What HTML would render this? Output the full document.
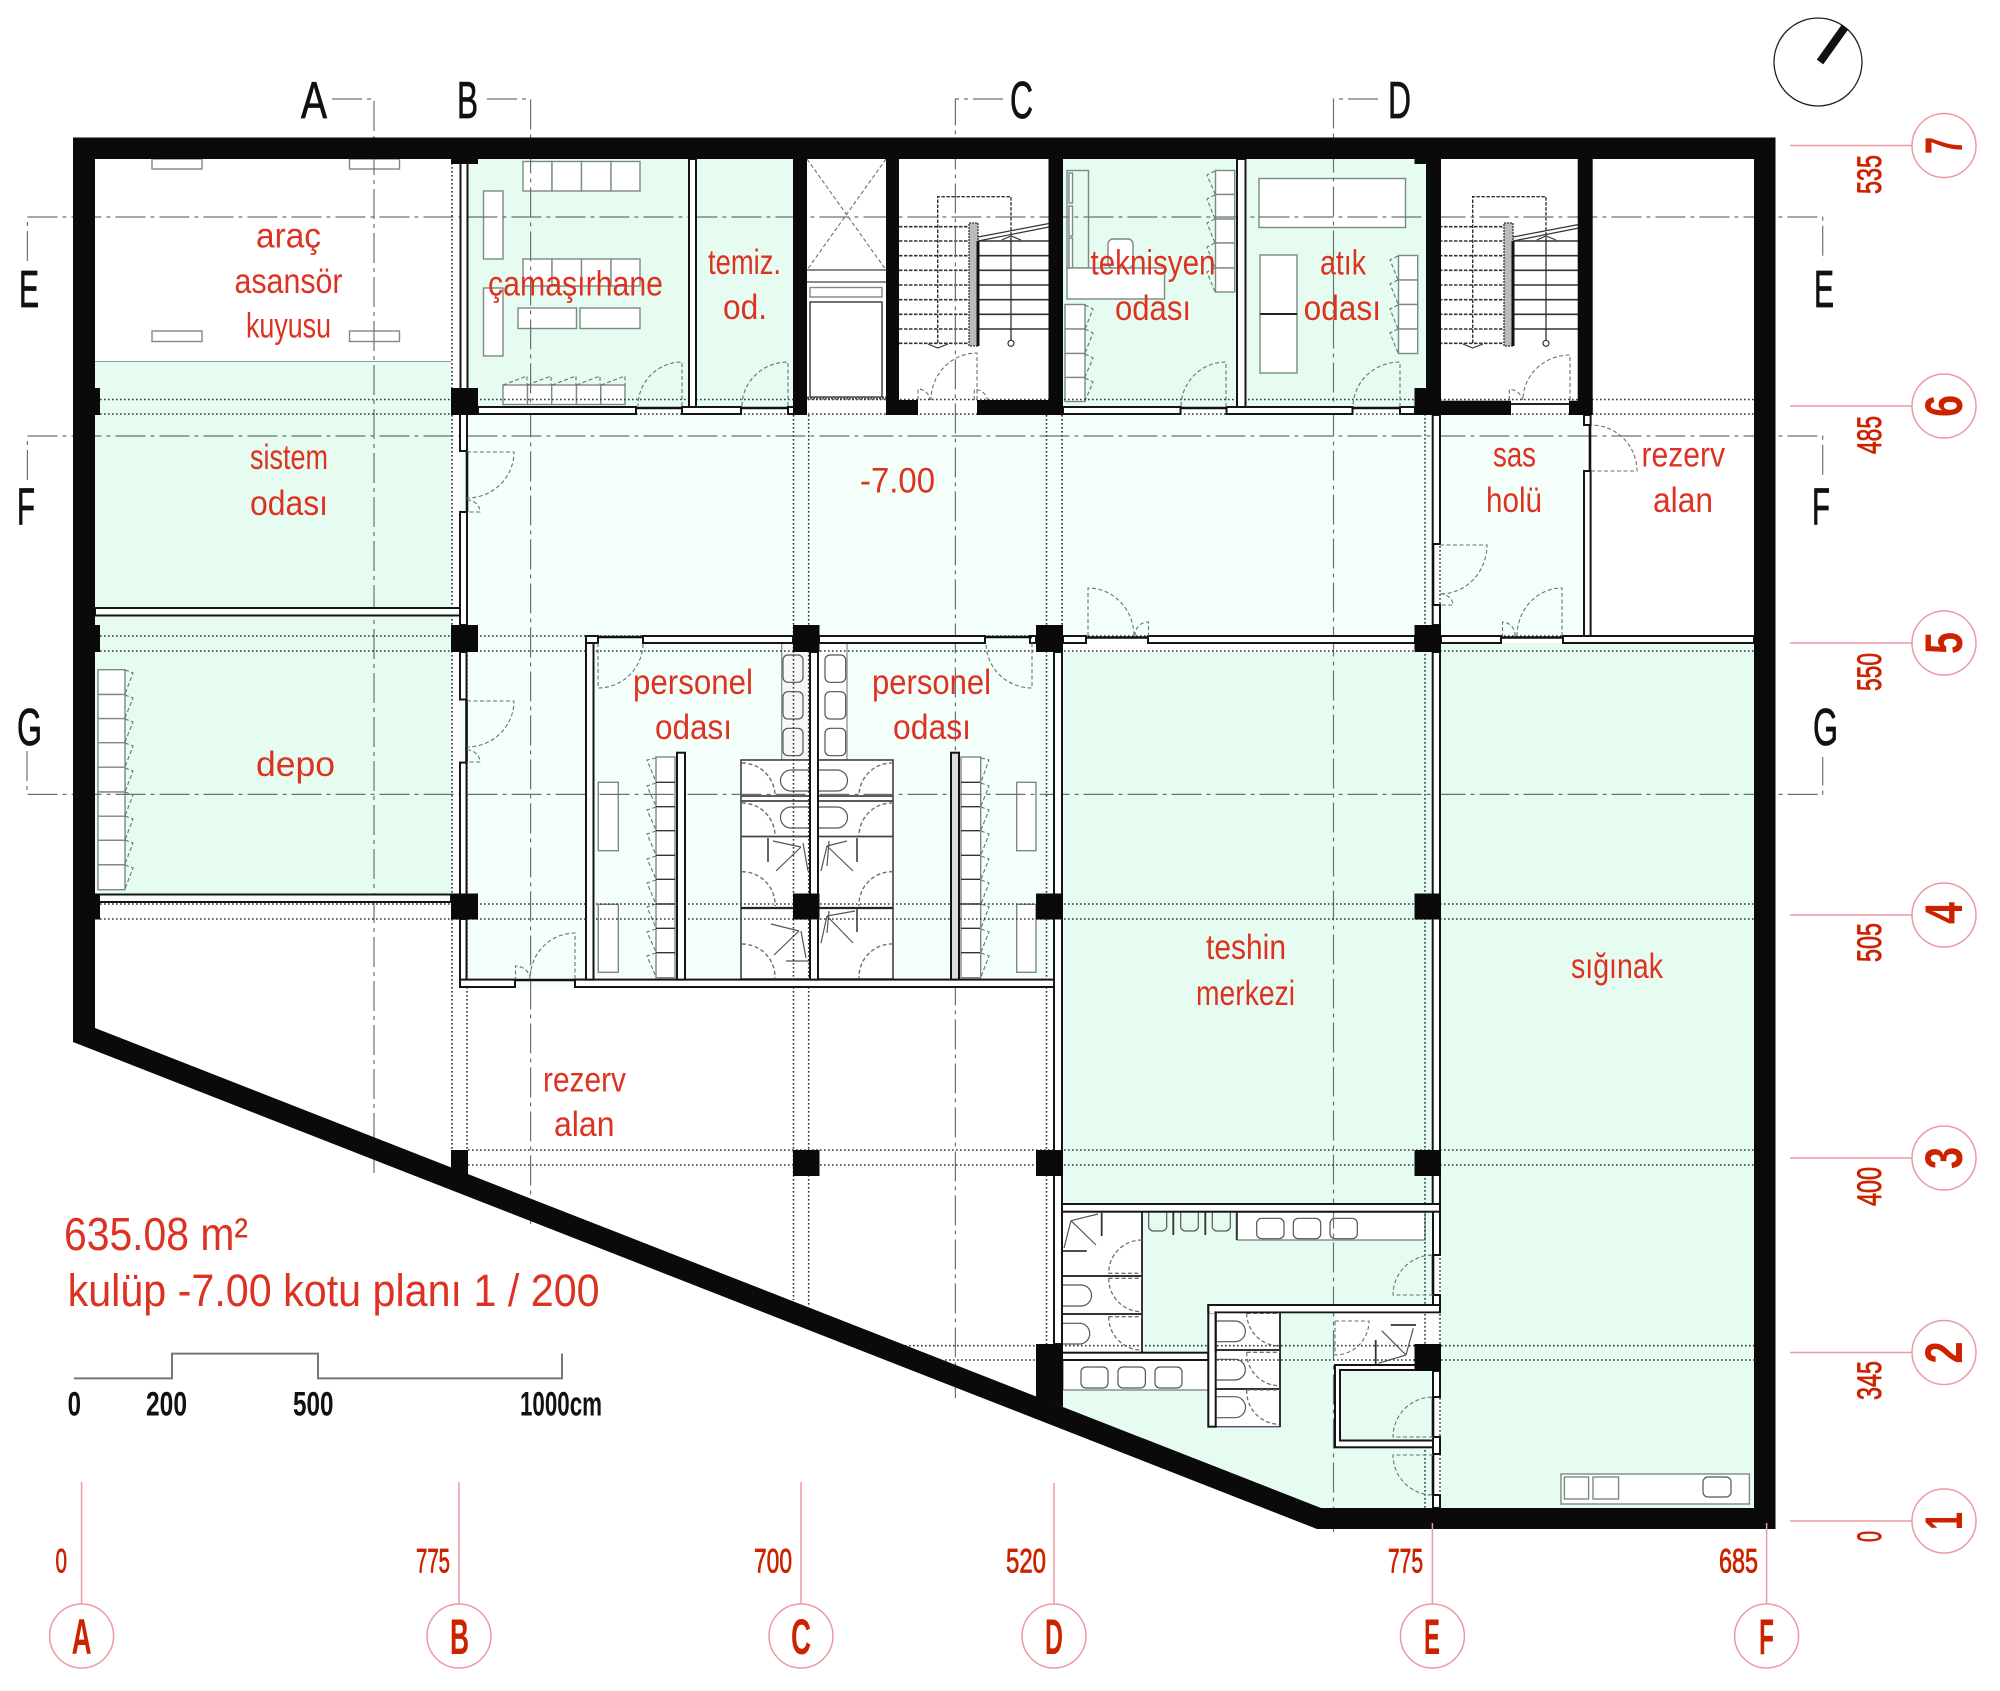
<!DOCTYPE html>
<html><head><meta charset="utf-8"><title>kulüp -7.00 kotu planı</title>
<style>
html,body{margin:0;padding:0;background:#fff}
svg{display:block}
text{font-family:"Liberation Sans",sans-serif}
.r{fill:#dc3222;font-size:35px}
.k{fill:#111;font-size:52px;stroke:#111;stroke-width:.8}
.b{fill:#cc2200;font-size:50px;font-weight:bold}
.d{fill:#cc2200;font-size:34px;stroke:#cc2200;stroke-width:.8}
.s{fill:#111;font-size:34px;font-weight:bold}
.p rect,rect.p{fill:#fff;stroke:#151515;stroke-width:2}
.gp rect,rect.gp{fill:#f4fff9;stroke:#151515;stroke-width:2}
.f rect,rect.f,path.f{fill:#fff;stroke:#7c8a82;stroke-width:1.4}
.dr{fill:none;stroke:#6a736e;stroke-width:1.1;stroke-dasharray:4 2.5}
.dt{fill:none;stroke:#333;stroke-width:1.6;stroke-dasharray:1.6 2.4}
.sec{fill:none;stroke:#68736e;stroke-width:1.2;stroke-dasharray:30 5 4 5}
.ax{fill:none;stroke:#ec9aa0;stroke-width:1.5}
.bk{fill:#0a0a0a}
.ln{fill:none;stroke:#444;stroke-width:1.3}
</style></head>
<body>
<svg xmlns="http://www.w3.org/2000/svg" width="2000" height="1691" viewBox="0 0 2000 1691">
<rect width="2000" height="1691" fill="#fff"/>

<!-- fills -->
<g fill="#e6fcf0">
<rect x="95" y="361" width="356" height="247"/>
<rect x="95" y="616" width="356" height="278"/>
<rect x="467" y="159" width="222" height="248"/>
<rect x="696" y="159" width="97" height="248"/>
<rect x="1063" y="159" width="174" height="248"/>
<rect x="1245" y="159" width="181" height="248"/>
<rect x="1062" y="652" width="372" height="552"/>
<rect x="1441" y="643" width="313" height="865"/>
<polygon points="1062,1211 1434,1211 1434,1508 1321,1508 1062,1407"/>
</g>
<g fill="#f3fff8">
<polygon points="467,414 1432,414 1432,636 1054,636 1054,652 586,652 586,987 459,987 459,400 467,400"/>
<rect x="593" y="643" width="461" height="336"/>
<rect x="1441" y="414" width="143" height="222"/>
<rect x="95" y="608" width="365" height="8" fill="#fff"/>
<rect x="95" y="894" width="360" height="8" fill="#fff"/>
</g>
<rect x="95" y="361" width="356" height="1" fill="#8a9a92"/>

<!-- lift -->
<rect x="807" y="159" width="79" height="241" fill="#fff"/>
<path d="M807 159L886 270M886 159L807 270" class="dr"/>
<path d="M807 270H886M807 282H886" class="ln"/>
<rect class="f" x="810" y="287.5" width="72" height="9.5"/>
<rect class="f" x="810" y="302" width="72" height="95" style="stroke:#333"/>
<path d="M807 398H886" stroke="#555" stroke-width="3" stroke-dasharray="2 1" fill="none"/>

<!-- car lift -->
<g class="f">
<rect x="152" y="159" width="50" height="10"/><rect x="349.500" y="159" width="50" height="10"/>
<rect x="152" y="331" width="50" height="10.500"/><rect x="349.500" y="331" width="50" height="10.500"/>
</g>

<!-- laundry -->
<g class="f">
<rect x="523" y="161.500" width="29" height="29.500"/><rect x="552" y="161.500" width="29.500" height="29.500"/><rect x="581.500" y="161.500" width="29.500" height="29.500"/><rect x="611" y="161.500" width="29" height="29.500"/>
<rect x="523" y="259" width="29" height="27"/><rect x="552" y="259" width="29.500" height="27"/><rect x="581.500" y="259" width="29.500" height="27"/><rect x="611" y="259" width="29" height="27"/>
<rect x="518" y="308" width="58.500" height="20.500"/><rect x="580" y="308" width="60" height="20.500"/>
<rect x="483.500" y="191" width="19.500" height="68"/><rect x="483.500" y="288" width="19.500" height="68"/>
<rect x="503" y="385" width="24.500" height="19.500"/><rect x="527.500" y="385" width="24.200" height="19.500"/><rect x="551.700" y="385" width="24.800" height="19.500"/><rect x="576.500" y="385" width="24.300" height="19.500"/><rect x="600.800" y="385" width="24.200" height="19.500"/>
</g>
<path class="dr" d="M503 385L527 376V385M527.500 385L551 376V385M552 385L576 376V385M576.500 385L600 376V385M601 385L625 376V385"/>

<!-- teknisyen -->
<g class="f">
<rect x="1067" y="170.500" width="21.500" height="97.500" style="fill:#e6fcf0"/>
<rect x="1069" y="173" width="3.500" height="30"/><rect x="1069" y="206" width="3.500" height="30"/><rect x="1069" y="238" width="3.500" height="30"/>
<rect x="1108" y="239" width="25" height="29" rx="5"/>
<rect x="1067" y="268" width="97.500" height="31" style="stroke:#7c8a82"/>
<rect x="1215.500" y="170.500" width="19.200" height="24"/><rect x="1215.500" y="194.500" width="19.200" height="24.500"/><rect x="1215.500" y="219" width="19.200" height="24"/><rect x="1215.500" y="243" width="19.200" height="25"/><rect x="1215.500" y="268" width="19.200" height="24"/>
<rect x="1065" y="304.500" width="20" height="24.500"/><rect x="1065" y="329" width="20" height="24.500"/><rect x="1065" y="353.500" width="20" height="24"/><rect x="1065" y="377.500" width="20" height="24"/>
</g>
<path class="dr" d="M1215 171L1207 175L1215 194M1215 195L1207 199L1215 219M1215 219L1207 223L1215 243M1215 243L1207 247L1215 268M1215 268L1207 272L1215 292M1085 305L1093 309L1085 329M1085 329L1093 333L1085 353M1085 354L1093 358L1085 377M1085 378L1093 382L1085 401"/>

<!-- atik -->
<g class="f">
<rect x="1259" y="178.500" width="146.500" height="49"/>
<rect x="1260" y="255" width="37" height="59"/><rect x="1260" y="314" width="37" height="59"/>
<rect x="1398.500" y="255.500" width="19.200" height="24.500"/><rect x="1398.500" y="280" width="19.200" height="24.500"/><rect x="1398.500" y="304.500" width="19.200" height="24.500"/><rect x="1398.500" y="329" width="19.200" height="24.500"/>
</g>
<path d="M1260 314H1297" stroke="#222" stroke-width="2"/>
<path class="dr" d="M1398 256L1390 260L1398 280M1398 280L1390 284L1398 304M1398 305L1390 309L1398 329M1398 329L1390 333L1398 353"/>

<!-- stairs -->
<g id="st">
<path d="M1434 226.700H1504M1434 241H1504M1434 255.700H1504M1434 270.300H1504M1434 285H1504M1434 299.700H1504M1434 314.300H1504M1434 329H1504M1434 343.300H1504" fill="none" stroke="#333" stroke-width="1.6" stroke-dasharray="3.500 1.500"/>
<path d="M1513 241H1584M1513 255.700H1584M1513 270.300H1584M1513 285H1584M1513 299.700H1584M1513 314.300H1584M1513 329H1584" fill="none" stroke="#333" stroke-width="1.6"/>
<path d="M1472.700 343V196.700H1546V241" fill="none" stroke="#333" stroke-width="1.4" stroke-dasharray="3.500 1.500"/>
<path d="M1546 241V340" stroke="#333" stroke-width="1.3"/>
<circle cx="1546" cy="343.300" r="3" fill="none" stroke="#333" stroke-width="1.200"/>
<path d="M1463 344L1472.700 348L1483 344" fill="none" stroke="#333" stroke-width="1.200"/>
<path d="M1536.700 240L1546 236L1556 240" fill="none" stroke="#333" stroke-width="1.200"/>
<rect x="1504" y="223" width="9" height="123" fill="#bbb" stroke="#333" stroke-width="1.300" stroke-dasharray="2 1"/>
<rect x="1511.500" y="241" width="3" height="105" fill="#111"/>
<path d="M1513 237L1584 223.500M1513 241L1584 227" fill="none" stroke="#333" stroke-width="1.200"/>
<path class="dr" d="M1509.300 400V389.300A14 14 0 0 1 1522.700 400"/>
</g>
<use href="#st" transform="translate(-535 0)"/>

<!-- depo lockers -->
<g class="f">
<rect x="98" y="669.700" width="27" height="24.800"/><rect x="98" y="694.500" width="27" height="24.100"/><rect x="98" y="718.600" width="27" height="24.100"/><rect x="98" y="742.700" width="27" height="24.500"/><rect x="98" y="767.200" width="27" height="24.800"/><rect x="98" y="792" width="27" height="24.200"/><rect x="98" y="816.200" width="27" height="24.100"/><rect x="98" y="840.300" width="27" height="24.500"/><rect x="98" y="864.800" width="27" height="24.900"/>
</g>
<path class="dr" d="M125 670L133 673L125 694M125 695L133 698L125 718M125 719L133 722L125 742M125 743L133 746L125 767M125 768L133 771L125 792M125 792L133 795L125 816M125 816L133 819L125 840M125 840L133 843L125 864M125 865L133 868L125 889"/>

<!-- personel rooms -->
<rect x="781.700" y="642.700" width="36" height="117.300" fill="#f7f7f7" stroke="#7c8a82" stroke-width="1.200"/>
<rect x="818" y="642.700" width="29" height="117.300" fill="#fff" stroke="#7c8a82" stroke-width="1.200"/>
<g fill="none" stroke="#555" stroke-width="1.200">
<rect x="783" y="655" width="20" height="27.300" rx="5"/><rect x="783" y="691.700" width="20" height="27.300" rx="5"/><rect x="783" y="728.300" width="20" height="27.400" rx="5"/>
<rect x="825" y="655" width="20.700" height="27.300" rx="5"/><rect x="825" y="691.700" width="20.700" height="27.300" rx="5"/><rect x="825" y="728.300" width="20.700" height="27.400" rx="5"/>
</g>
<rect x="741" y="760" width="152" height="219" fill="#fff" stroke="#333" stroke-width="1.500"/>
<g fill="none" stroke="#555" stroke-width="1.200">
<path d="M809 770H791A10 10 0 0 0 791 791H809"/><path d="M809 807H791A10 10 0 0 0 791 828H809"/>
<path d="M819 770H837A10 10 0 0 1 837 791H819"/><path d="M819 807H837A10 10 0 0 1 837 828H819"/>
<path d="M773 841L801 847M776 871L801 847M808 871L803 843M829 841L827 866M847 841L827 846M853 871L827 846M821 871L827 846"/>
<path d="M771 924L799 931M774 955L799 931M806 958L801 931M786 961H810M829 911L827 933M855 911L827 916M853 943L827 916M821 943L827 916"/>
</g>
<path d="M741 796H810M741 801H810M818 796H893M818 801H893M741 836.500H810M818 836.500H893" stroke="#444" stroke-width="1.800" fill="none"/>
<path d="M741 908H800M818 908H893" stroke="#222" stroke-width="2.200" fill="none"/>
<path d="M768 838V862M857 838V862M857 908V932" stroke="#333" stroke-width="1.500" fill="none"/>
<path class="dr" d="M742 763A33 33 0 0 1 775 796M742 803A33 33 0 0 1 775 836M742 871.700A33 33 0 0 1 775 906M742 944A33 33 0 0 1 775 978M893 763A33 33 0 0 0 859 796M893 803A33 33 0 0 0 859 836M893 871.700A33 33 0 0 0 859 906M893 944A33 33 0 0 0 859 978" style="stroke-width:1.400"/>
<g class="f">
<rect x="598.300" y="782.300" width="20" height="68.400"/><rect x="598.300" y="904.300" width="20" height="68"/>
<rect x="1016.700" y="782.300" width="19.300" height="68.400"/><rect x="1016.700" y="904.300" width="19.300" height="68"/>
<rect x="656" y="757" width="19" height="220.700"/><rect x="961" y="757" width="19.700" height="220.700"/>
</g>
<path d="M656 782.300H675M656 806.700H675M656 830.700H675M656 855.300H675M656 879.300H675M656 904H675M656 928.300H675M656 952.700H675M961 782.300H980M961 806.700H980M961 830.700H980M961 855.300H980M961 879.300H980M961 904H980M961 928.300H980M961 952.700H980" stroke="#333" stroke-width="1.400" fill="none"/>
<path class="dr" d="M656 758L647 760L656 782M656 783L647 786L656 806M656 807L647 810L656 830M656 831L647 834L656 855M656 856L647 859L656 879M656 880L647 883L656 904M656 904L647 907L656 928M656 929L647 932L656 952M656 953L647 956L656 977M981 758L989 760L981 782M981 783L989 786L981 806M981 807L989 810L981 830M981 831L989 834L981 855M981 856L989 859L981 879M981 880L989 883L981 904M981 904L989 907L981 928M981 929L989 932L981 952M981 953L989 956L981 977"/>

<!-- wet area -->
<rect x="1062.300" y="1211.700" width="79.700" height="141" fill="#fff"/>
<rect x="1237.300" y="1212" width="187.700" height="28" class="f"/>
<rect x="1063" y="1360" width="145.300" height="30" class="f"/>
<rect x="1215.700" y="1312.300" width="64.300" height="114.400" fill="#fff" stroke="#445" stroke-width="1.300"/>
<rect x="1335" y="1312.300" width="97.700" height="52.700" fill="#fff"/>
<rect x="1561" y="1474" width="188.400" height="30" class="f"/>
<rect x="1564.400" y="1477" width="24.200" height="22" class="f"/><rect x="1593" y="1477" width="25.600" height="22" class="f"/>
<g fill="none" stroke="#555" stroke-width="1.200">
<rect x="1703" y="1477" width="28" height="20" rx="5"/>
<rect x="1256.700" y="1218.300" width="27.300" height="20.400" rx="5"/><rect x="1293.300" y="1218.300" width="27.400" height="20.400" rx="5"/><rect x="1330" y="1218.300" width="27.300" height="20.400" rx="5"/>
<rect x="1081" y="1367" width="27" height="21" rx="5"/><rect x="1118" y="1367" width="27.400" height="21" rx="5"/><rect x="1155" y="1367" width="27" height="21" rx="5"/>
<path d="M1148.700 1212V1225A5 5 0 0 0 1154 1231H1161A5 5 0 0 0 1166.700 1225V1212M1180.700 1212V1225A5 5 0 0 0 1186 1231H1193A5 5 0 0 0 1198.300 1225V1212M1212.300 1212V1225A5 5 0 0 0 1218 1231H1225A5 5 0 0 0 1230.300 1225V1212"/>
<path d="M1063 1285H1081A10.500 10.500 0 0 1 1081 1306H1063M1063 1323.300H1081A10.500 10.500 0 0 1 1081 1344H1063M1216.700 1321H1235A10.300 10.300 0 0 1 1235 1341.700H1216.700M1216.700 1359.300H1235A10.300 10.300 0 0 1 1235 1380H1216.700M1216.700 1396.700H1235A10.500 10.500 0 0 1 1235 1417.700H1216.700"/>
<path d="M1071 1220.700L1098 1214M1071 1220.700L1096 1245M1071 1220.700L1064 1248M1406 1355L1413.300 1328.300M1406 1355L1381.700 1330.700M1406 1355L1378.300 1363.300"/>
<path d="M1173.300 1212V1235M1205.300 1212V1235M1236.700 1212V1240M1101.700 1212.700V1236M1062 1251H1086.700M1390.700 1325H1416M1375.700 1340V1364" stroke="#333" stroke-width="1.800"/>
</g>
<path d="M1142 1211.700V1352.700M1062.300 1276H1142M1062.300 1314H1142M1215.700 1350H1280M1215.700 1389H1280M1280 1312.300V1426.700" fill="none" stroke="#333" stroke-width="2"/>
<path class="dr" d="M1142 1240A33 33 0 0 0 1108.700 1273.300H1142M1108.700 1278.300H1142M1108.700 1278.300A33 33 0 0 0 1142 1311.700M1108.700 1316.700H1142M1108.700 1316.700A33 33 0 0 0 1142 1350M1246.700 1313.300H1280M1246.700 1313.300A33 33 0 0 0 1279.300 1346M1246.700 1352.300H1280M1246.700 1352.300A33 33 0 0 0 1279.300 1385.700M1246.700 1390H1280M1246.700 1390A33 33 0 0 0 1279.300 1424.300" style="stroke-width:1.300"/>

<!-- section lines -->
<path class="sec" d="M332 99H374V1173M487 99H530.600V1224M1003 99H955.400V1398M1378 99H1333.500V1532"/>
<path class="sec" d="M27.400 261V217H1822.700V261M27.400 480V436H1822.700V480M27 751V794.400H1822.700V757"/>

<!-- dotted beams -->
<path class="dt" d="M100 399.500H1754M100 414H1754M100 636H1754M100 651H1754M100 904H1754M100 919H1754M468 1150H1754M468 1165H1754M905 1345.700H1754M945 1360H1754"/>
<path class="dt" d="M452 159V1150M467 159V1170M793.500 415V1300M808.700 415V1305M1046.500 415V1350M1062 415V1350M1425 414V1508M1440 414V1508"/>

<!-- partitions -->
<g class="p">
<rect x="689" y="159" width="7" height="248"/>
<rect x="1237" y="159" width="8.500" height="248"/>
<rect x="478" y="407" width="158" height="7"/><rect x="682" y="407" width="59" height="7"/><rect x="788" y="407" width="6" height="7"/>
<rect x="1063" y="407" width="117.500" height="7"/><rect x="1226.500" y="407" width="126" height="7"/><rect x="1400" y="407" width="15" height="7"/>
<rect x="460.500" y="159" width="7" height="230"/>
<rect x="460" y="414" width="7" height="37"/><rect x="460" y="512" width="7" height="113"/>
<rect x="460" y="652" width="6.500" height="47.500"/><rect x="460" y="762.600" width="6.500" height="132"/>
<rect x="95" y="608" width="365" height="7.500" style="fill:#f8fffb"/>
<rect x="95" y="894.500" width="356" height="7.500" style="fill:#f8fffb"/>
<rect x="460" y="919" width="6.500" height="68"/>
<rect x="460" y="979.600" width="55" height="7.400"/>
<rect x="575" y="979.600" width="18" height="7.400"/>
<rect x="575" y="979.600" width="479" height="7.400"/>
<rect x="586" y="636" width="7.500" height="343.600"/>
<rect x="586" y="636" width="12" height="7"/>
<rect x="643" y="636" width="150" height="7"/>
<rect x="819" y="636" width="166" height="7"/>
<rect x="1030" y="636" width="6" height="7"/>
<rect x="810" y="652" width="8" height="327.600"/>
<rect x="677" y="752.700" width="8" height="226.900"/>
<rect x="951" y="752.700" width="8" height="226.900" style="fill:#ddd"/>
<rect x="1054" y="652" width="8" height="692"/>
<rect x="1432.700" y="415" width="7.300" height="129"/><rect x="1432.700" y="605" width="7.300" height="20"/>
<rect x="1432.700" y="652" width="7.300" height="552"/>
<rect x="1063" y="636" width="23" height="7"/><rect x="1148" y="636" width="267" height="7"/>
<rect x="1441" y="636" width="60" height="7"/><rect x="1563" y="636" width="191" height="7"/>
<rect x="1584" y="471" width="6.600" height="165"/><rect x="1584" y="415" width="6.600" height="10"/>
<rect x="1433" y="1211" width="7" height="44"/><rect x="1433" y="1295" width="7" height="10"/>
<rect x="1433" y="1371" width="7" height="26"/><rect x="1433" y="1437" width="7" height="17"/><rect x="1433" y="1495" width="7" height="13"/>
<rect x="1062" y="1204" width="378" height="7.700"/>
<rect x="1062" y="1352.700" width="146.300" height="7.300"/>
<rect x="1208.300" y="1305" width="7.400" height="121.700"/>
<rect x="1208.300" y="1305" width="231.700" height="7.300"/>
<rect x="1335" y="1365" width="98" height="82.300"/>
<rect x="1340" y="1370" width="93" height="70.500" style="fill:#e6fcf0"/>
</g>
<rect x="1209.500" y="1306" width="5" height="7" fill="#fff"/>
<rect x="1216.500" y="1306" width="222" height="5.400" fill="#fff"/>
<path d="M1215.700 1312.300V1352.700" stroke="#151515" stroke-width="2"/>
<path d="M636 408H682M741 408H788M1180.500 408H1226.500M1352.500 408H1400M643 637H598M985 637H1032M1086 637.500H1148M1501 637.500H1563M515 980H575M467 451V512M466.500 699.500V762.600M1433 544V605M1590 425V471M1433 1255V1295M1433 1397V1437M1433 1454V1495" fill="none" stroke="#111" stroke-width="2.600"/>
<path d="M1511 404H1570" stroke="#222" stroke-width="2"/>

<!-- doors -->
<g class="dr">
<path d="M682 406V362A44 44 0 0 0 638 406"/>
<path d="M788 406V362A46 44 0 0 0 742 406"/>
<path d="M977 400V353A46 47 0 0 0 931 400"/>
<path d="M1570 400V355A47 45 0 0 0 1523 400"/>
<path d="M1226 407V362A45 45 0 0 0 1181 407"/>
<path d="M1400 407V362A47 45 0 0 0 1353 407"/>
<path d="M467 452H514A47 46 0 0 1 467 498M467 500A13 12 0 0 1 480 512H467"/>
<path d="M467 701H514A47 46 0 0 1 467 747M467 750A13 12 0 0 1 480 762H467"/>
<path d="M575 979V933A45 46 0 0 0 530 979M530 979A15 13 0 0 0 515.500 966V979"/>
<path d="M598 643V688A45 45 0 0 0 643 643"/>
<path d="M1032 643V688A46 45 0 0 1 986 643"/>
<path d="M1088 636V588A46 48 0 0 1 1134 636M1135 636A13 13 0 0 1 1148.500 622V636"/>
<path d="M1440 545H1487A47 49 0 0 1 1440 594M1440 594A13 11 0 0 1 1453 605H1440"/>
<path d="M1562 636V588A45 48 0 0 0 1517 636M1515 636A13 13 0 0 0 1502.500 622V636"/>
<path d="M1591 471H1637A46 46 0 0 0 1591 425"/>
<path d="M1433 1295H1393A40 40 0 0 1 1433 1255"/>
<path d="M1433 1437H1393A40 40 0 0 1 1433 1397"/>
<path d="M1433 1455H1393A40 40 0 0 0 1433 1495"/>
<path d="M1335 1321H1369A34 34 0 0 1 1335 1355V1321"/>
<path d="M918 400V389A12 12 0 0 1 930 400"/>
</g>

<!-- outer wall -->
<path class="bk" fill-rule="evenodd" d="M73 137.500H1775.500V1529H1317L73 1042ZM95 159V1028L1321 1508H1754V159Z"/>
<!-- structural walls -->
<g class="bk">
<rect x="793" y="159" width="14" height="256"/>
<rect x="886" y="159" width="13" height="256"/><rect x="886" y="400" width="32" height="15"/>
<rect x="977" y="400" width="86" height="15"/><rect x="1048.500" y="159" width="14.500" height="256"/>
<rect x="1426" y="159" width="15" height="256"/><rect x="1414.500" y="388" width="26.500" height="27"/><rect x="1441" y="400.700" width="70" height="14.300"/>
<rect x="1577.700" y="159" width="15" height="256"/><rect x="1569" y="400.700" width="23.700" height="14.300"/>
<!-- pillars -->
<rect x="73" y="388" width="27" height="27"/><rect x="73" y="625" width="27" height="27"/><rect x="73" y="893.500" width="27" height="26"/>
<rect x="451" y="388" width="27" height="27"/><rect x="451" y="625" width="27" height="27"/><rect x="451" y="893.500" width="27" height="26"/>
<rect x="451" y="159" width="27" height="5"/><rect x="1414.500" y="159" width="12" height="5"/>
<polygon points="451,1150 468,1150 468,1192 451,1186"/>
<rect x="793" y="625" width="26.500" height="27"/><rect x="793" y="893.500" width="26.500" height="26"/><rect x="793" y="1150" width="26.500" height="26"/>
<rect x="1036" y="625" width="27" height="27"/><rect x="1036" y="893.500" width="27" height="26"/><rect x="1036" y="1150" width="27" height="26"/>
<rect x="1414.500" y="625" width="26.500" height="27"/><rect x="1414.500" y="893.500" width="26.500" height="26"/><rect x="1414.500" y="1150" width="26.500" height="26"/><rect x="1414.500" y="1344" width="26.500" height="27"/>
<polygon points="1036,1344 1063,1344 1063,1407 1036,1397"/>
</g>

<!-- north -->
<ellipse cx="1818" cy="62" rx="44" ry="44" fill="none" stroke="#222" stroke-width="1.300"/>
<path d="M1820 62L1845 27" stroke="#111" stroke-width="8" fill="none"/>

<!-- axes right -->
<g class="ax">
<path d="M1790 145.500H1912M1790 406H1912M1790 643H1912M1790 915H1912M1790 1158H1912M1790 1352.500H1912M1790 1521H1912"/>
<circle cx="1944" cy="145.500" r="32"/><circle cx="1944" cy="406" r="32"/><circle cx="1944" cy="643" r="32"/><circle cx="1944" cy="915" r="32"/><circle cx="1944" cy="1158" r="32"/><circle cx="1944" cy="1352.500" r="32"/><circle cx="1944" cy="1521" r="32"/>
<path d="M81.600 1482V1604M459 1482V1604M801 1482V1604M1054 1483V1604M1432.400 1523V1604M1766.600 1523V1604"/>
<circle cx="81.600" cy="1636" r="32"/><circle cx="459" cy="1636" r="32"/><circle cx="801" cy="1636" r="32"/><circle cx="1054" cy="1636" r="32"/><circle cx="1432.400" cy="1636" r="32"/><circle cx="1766.600" cy="1636" r="32"/>
</g>
<g class="b" font-size="53">
<text transform="translate(1962,154) rotate(-90)" style="font-size:53px" textLength="17" lengthAdjust="spacingAndGlyphs">7</text>
<text transform="translate(1962,417) rotate(-90)" style="font-size:53px" textLength="22" lengthAdjust="spacingAndGlyphs">6</text>
<text transform="translate(1962,654) rotate(-90)" style="font-size:53px" textLength="22" lengthAdjust="spacingAndGlyphs">5</text>
<text transform="translate(1962,924) rotate(-90)" style="font-size:53px" textLength="22" lengthAdjust="spacingAndGlyphs">4</text>
<text transform="translate(1962,1169) rotate(-90)" style="font-size:53px" textLength="22" lengthAdjust="spacingAndGlyphs">3</text>
<text transform="translate(1962,1363.500) rotate(-90)" style="font-size:53px" textLength="22" lengthAdjust="spacingAndGlyphs">2</text>
<text transform="translate(1962,1530) rotate(-90)" style="font-size:53px" textLength="18" lengthAdjust="spacingAndGlyphs">1</text>
</g>
<g class="d">
<text transform="translate(1881,194) rotate(-90)" textLength="39" lengthAdjust="spacingAndGlyphs">535</text>
<text transform="translate(1881,454) rotate(-90)" textLength="38" lengthAdjust="spacingAndGlyphs">485</text>
<text transform="translate(1881,691) rotate(-90)" textLength="38" lengthAdjust="spacingAndGlyphs">550</text>
<text transform="translate(1881,962) rotate(-90)" textLength="39" lengthAdjust="spacingAndGlyphs">505</text>
<text transform="translate(1881,1206) rotate(-90)" textLength="39" lengthAdjust="spacingAndGlyphs">400</text>
<text transform="translate(1881,1400) rotate(-90)" textLength="39" lengthAdjust="spacingAndGlyphs">345</text>
<text transform="translate(1881,1542) rotate(-90)" textLength="11" lengthAdjust="spacingAndGlyphs">0</text>
<text x="55.500" y="1572.500" textLength="11.500" lengthAdjust="spacingAndGlyphs">0</text>
<text x="416" y="1572.500" textLength="34" lengthAdjust="spacingAndGlyphs">775</text>
<text x="754" y="1572.500" textLength="38" lengthAdjust="spacingAndGlyphs">700</text>
<text x="1006" y="1572.500" textLength="40" lengthAdjust="spacingAndGlyphs">520</text>
<text x="1388" y="1572.500" textLength="35" lengthAdjust="spacingAndGlyphs">775</text>
<text x="1719" y="1572.500" textLength="39" lengthAdjust="spacingAndGlyphs">685</text>
</g>
<g class="b">
<text x="71.600" y="1654" textLength="20" lengthAdjust="spacingAndGlyphs">A</text>
<text x="450" y="1654" textLength="19" lengthAdjust="spacingAndGlyphs">B</text>
<text x="791" y="1654" textLength="20" lengthAdjust="spacingAndGlyphs">C</text>
<text x="1045" y="1654" textLength="18" lengthAdjust="spacingAndGlyphs">D</text>
<text x="1424" y="1654" textLength="16" lengthAdjust="spacingAndGlyphs">E</text>
<text x="1759" y="1654" textLength="15" lengthAdjust="spacingAndGlyphs">F</text>
</g>

<!-- section letters -->
<g class="k">
<text x="301" y="118" textLength="26" lengthAdjust="spacingAndGlyphs">A</text>
<text x="457" y="118" textLength="21" lengthAdjust="spacingAndGlyphs">B</text>
<text x="1010" y="118" textLength="23" lengthAdjust="spacingAndGlyphs">C</text>
<text x="1388" y="118" textLength="23" lengthAdjust="spacingAndGlyphs">D</text>
<text x="19" y="307" textLength="20" lengthAdjust="spacingAndGlyphs">E</text>
<text x="1824" y="307" textLength="0" style="display:none"></text>
<text x="1823" y="307" textLength="0" style="display:none"></text>
<text x="1824" y="307" textLength="0" style="display:none"></text>
<text x="1824" y="307" textLength="0" style="display:none"></text>
<text x="1814" y="307" textLength="20" lengthAdjust="spacingAndGlyphs">E</text>
<text x="17" y="524.500" textLength="18" lengthAdjust="spacingAndGlyphs">F</text>
<text x="1812" y="524.500" textLength="18" lengthAdjust="spacingAndGlyphs">F</text>
<text x="17" y="745" textLength="25" lengthAdjust="spacingAndGlyphs">G</text>
<text x="1823" y="745" textLength="0" style="display:none"></text>
<text x="1823" y="745" textLength="0" style="display:none"></text>
<text x="1823" y="745" textLength="0" style="display:none"></text>
<text x="1823" y="745" textLength="0" style="display:none"></text>
<text x="1813" y="745" textLength="25" lengthAdjust="spacingAndGlyphs">G</text>
</g>

<!-- room labels -->
<g class="r">
<text x="256" y="247.500" textLength="65" lengthAdjust="spacingAndGlyphs">araç</text>
<text x="234.500" y="293" textLength="108" lengthAdjust="spacingAndGlyphs">asansör</text>
<text x="246" y="337.700" textLength="85" lengthAdjust="spacingAndGlyphs">kuyusu</text>
<text x="488" y="295.500" textLength="175" lengthAdjust="spacingAndGlyphs">çamaşırhane</text>
<text x="708" y="274" textLength="73" lengthAdjust="spacingAndGlyphs">temiz.</text>
<text x="723" y="319" textLength="44" lengthAdjust="spacingAndGlyphs">od.</text>
<text x="250" y="469" textLength="78" lengthAdjust="spacingAndGlyphs">sistem</text>
<text x="250" y="515" textLength="78" lengthAdjust="spacingAndGlyphs">odası</text>
<text x="860" y="492.400" textLength="75" lengthAdjust="spacingAndGlyphs">-7.00</text>
<text x="633" y="694" textLength="120" lengthAdjust="spacingAndGlyphs">personel</text>
<text x="655" y="739" textLength="77" lengthAdjust="spacingAndGlyphs">odası</text>
<text x="872" y="694" textLength="119" lengthAdjust="spacingAndGlyphs">personel</text>
<text x="893" y="739" textLength="78" lengthAdjust="spacingAndGlyphs">odası</text>
<text x="256" y="776" textLength="79" lengthAdjust="spacingAndGlyphs">depo</text>
<text x="543" y="1091.600" textLength="83" lengthAdjust="spacingAndGlyphs">rezerv</text>
<text x="554" y="1136" textLength="60.500" lengthAdjust="spacingAndGlyphs">alan</text>
<text x="1090.500" y="274.700" textLength="125" lengthAdjust="spacingAndGlyphs">teknisyen</text>
<text x="1115" y="320" textLength="76" lengthAdjust="spacingAndGlyphs">odası</text>
<text x="1320" y="274.700" textLength="46" lengthAdjust="spacingAndGlyphs">atık</text>
<text x="1303.600" y="320" textLength="77.400" lengthAdjust="spacingAndGlyphs">odası</text>
<text x="1493" y="466.500" textLength="43" lengthAdjust="spacingAndGlyphs">sas</text>
<text x="1486" y="512" textLength="56" lengthAdjust="spacingAndGlyphs">holü</text>
<text x="1641.500" y="466.500" textLength="83.500" lengthAdjust="spacingAndGlyphs">rezerv</text>
<text x="1653" y="512" textLength="60" lengthAdjust="spacingAndGlyphs">alan</text>
<text x="1206" y="959" textLength="80" lengthAdjust="spacingAndGlyphs">teshin</text>
<text x="1196" y="1005" textLength="99" lengthAdjust="spacingAndGlyphs">merkezi</text>
<text x="1580" y="978" textLength="92" lengthAdjust="spacingAndGlyphs" dx="-9">sığınak</text>
<text x="64" y="1250" style="font-size:46px" textLength="184" lengthAdjust="spacingAndGlyphs">635.08 m²</text>
<text x="67.600" y="1306" style="font-size:45px" textLength="532" lengthAdjust="spacingAndGlyphs">kulüp -7.00 kotu planı 1 / 200</text>
</g>

<!-- scale -->
<path d="M74 1378.400H172V1353.600H318V1378.400H562V1353.600" fill="none" stroke="#777" stroke-width="2"/>
<g class="s">
<text x="67.600" y="1415.700" textLength="13.400" lengthAdjust="spacingAndGlyphs">0</text>
<text x="146" y="1415.700" textLength="41" lengthAdjust="spacingAndGlyphs">200</text>
<text x="293" y="1415.700" textLength="40.500" lengthAdjust="spacingAndGlyphs">500</text>
<text x="520" y="1415.700" textLength="82" lengthAdjust="spacingAndGlyphs">1000cm</text>
</g>
</svg>
</body></html>
